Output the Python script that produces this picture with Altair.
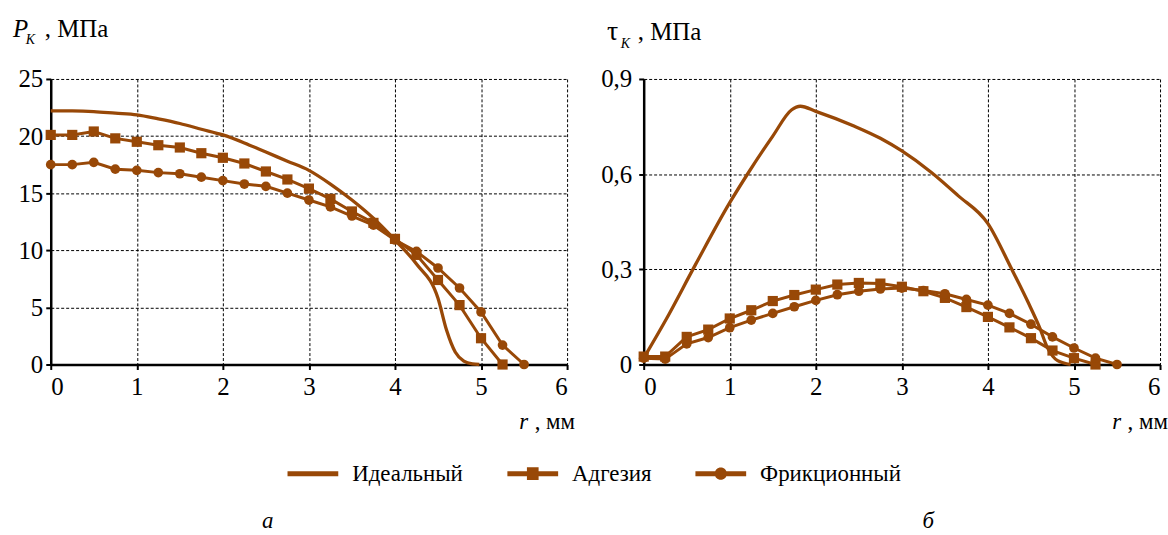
import altair as alt
import pandas as pd

BROWN = "#984807"
FONT = "Liberation Serif"

series_names = ["Идеальный", "Адгезия", "Фрикционный"]

# ---- panel а : contact pressure P_K, MPa ----
r_ideal_p = [0, 0.25, 0.5, 0.75, 1, 1.25, 1.5, 1.75, 2, 2.25, 2.5, 2.75, 3, 3.25,
             3.5, 3.75, 4, 4.25, 4.5, 4.6, 4.7, 4.8, 4.9, 4.98]
p_ideal = [22.2, 22.2, 22.15, 22.0, 21.85, 21.5, 21.1, 20.6, 20.1, 19.4, 18.6, 17.8,
           17.0, 15.8, 14.4, 12.8, 10.9, 8.8, 5.8, 3.0, 1.1, 0.3, 0.05, 0]

r_adh_p = [0, 0.25, 0.5, 0.75, 1, 1.25, 1.5, 1.75, 2, 2.25, 2.5, 2.75, 3, 3.25,
           3.5, 3.75, 4, 4.25, 4.5, 4.75, 5, 5.25]
p_adh = [20.1, 20.1, 20.4, 19.8, 19.5, 19.2, 19.0, 18.5, 18.1, 17.6, 16.9, 16.2,
         15.4, 14.5, 13.4, 12.4, 11.0, 9.6, 7.4, 5.2, 2.3, 0]

r_fric_p = [0, 0.25, 0.5, 0.75, 1, 1.25, 1.5, 1.75, 2, 2.25, 2.5, 2.75, 3, 3.25,
            3.5, 3.75, 4, 4.25, 4.5, 4.75, 5, 5.25, 5.5]
p_fric = [17.5, 17.5, 17.7, 17.1, 17.0, 16.8, 16.7, 16.4, 16.1, 15.8, 15.6, 15.0,
          14.4, 13.8, 13.0, 12.2, 10.9, 9.9, 8.45, 6.7, 4.6, 1.7, 0]

# ---- panel б : shear stress tau_K, MPa ----
r_ideal_t = [0, 0.25, 0.6, 1.0, 1.22, 1.5, 1.72, 1.82, 2.0, 2.45, 2.75, 3.0, 3.34,
             3.65, 4.0, 4.27, 4.46, 4.6, 4.69, 4.81, 4.96]
t_ideal = [0.02, 0.137, 0.314, 0.51, 0.606, 0.72, 0.803, 0.814, 0.798, 0.751, 0.713,
           0.673, 0.606, 0.533, 0.444, 0.304, 0.2, 0.117, 0.054, 0.012, 0.0]

r_adh_t = [0, 0.25, 0.5, 0.75, 1, 1.25, 1.5, 1.75, 2, 2.25, 2.5, 2.75, 3, 3.25,
           3.5, 3.75, 4, 4.25, 4.5, 4.75, 5, 5.25]
t_adh = [0.025, 0.025, 0.087, 0.11, 0.145, 0.171, 0.2, 0.219, 0.236, 0.252, 0.257,
         0.255, 0.245, 0.231, 0.21, 0.181, 0.15, 0.117, 0.083, 0.044, 0.02, 0.0]

r_fric_t = [0, 0.25, 0.5, 0.75, 1, 1.25, 1.5, 1.75, 2, 2.25, 2.5, 2.75, 3, 3.25,
            3.5, 3.75, 4, 4.25, 4.5, 4.75, 5, 5.25, 5.5]
t_fric = [0.02, 0.017, 0.065, 0.085, 0.116, 0.14, 0.161, 0.182, 0.202, 0.22, 0.231,
          0.238, 0.241, 0.233, 0.223, 0.205, 0.187, 0.161, 0.127, 0.087, 0.052, 0.02, 0.0]

x_ticks = [0, 1, 2, 3, 4, 5, 6]
p_ticks = [0, 5, 10, 15, 20, 25]
t_ticks = [0, 0.3, 0.6, 0.9]

W, H = 519, 287

# legend symbols: line, line + square, line + circle (unit box -1..1)
PATH_IDEAL = "M-1,-0.1H1V0.1H-1Z"
PATH_ADH = "M-1,-0.1H-0.23V-0.25H0.23V-0.1H1V0.1H0.23V0.25H-0.23V0.1H-1Z"
PATH_FRIC = ("M-1,-0.1H1V0.1H-1Z M0.24,0A0.24,0.24 0 1,1 -0.24,0"
             "A0.24,0.24 0 1,1 0.24,0Z")


def frame(r, v, name):
    return pd.DataFrame({"r": r, "v": v, "series": name})


def txt(s, x, y, size=22, style="normal", align="left"):
    return alt.Chart(pd.DataFrame({"s": [s]})).mark_text(
        font=FONT, fontSize=size, fontStyle=style, align=align,
        baseline="alphabetic", color="black"
    ).encode(text="s:N", x=alt.value(x), y=alt.value(y))


def panel(ideal_df, adh_df, fric_df, ymax, yticks, label_expr, letter,
          letter_x, label_pad, is_left):
    xs = alt.X("r:Q", scale=alt.Scale(domain=[0, 6], nice=False),
               axis=alt.Axis(values=x_ticks, title=None, format="d",
                             labelPadding=5))
    ys = alt.Y("v:Q", scale=alt.Scale(domain=[0, ymax], nice=False),
               axis=alt.Axis(values=yticks, title=None, labelExpr=label_expr,
                             labelPadding=label_pad))
    ideal = alt.Chart(ideal_df).mark_line(
        color=BROWN, strokeWidth=3.3, interpolate="monotone").encode(x=xs, y=ys)
    adh_line = alt.Chart(adh_df).mark_line(
        color=BROWN, strokeWidth=3).encode(x=xs, y=ys)
    adh_pts = alt.Chart(adh_df).mark_point(
        shape="square", filled=True, color=BROWN, size=105, opacity=1
    ).encode(x=xs, y=ys)
    fric_line = alt.Chart(fric_df).mark_line(
        color=BROWN, strokeWidth=3).encode(x=xs, y=ys)
    fric_pts = alt.Chart(fric_df).mark_point(
        shape="circle", filled=True, color=BROWN, size=95, opacity=1
    ).encode(x=xs, y=ys)
    layers = [ideal, adh_line, fric_line, adh_pts, fric_pts]
    if is_left:
        all_df = pd.concat([ideal_df, adh_df, fric_df])
        proxy = alt.Chart(all_df).mark_point(
            filled=True, color=BROWN, opacity=0
        ).encode(
            x=xs, y=ys,
            shape=alt.Shape(
                "series:N",
                scale=alt.Scale(domain=series_names,
                                range=[PATH_IDEAL, PATH_ADH, PATH_FRIC]),
                legend=alt.Legend(
                    title=None, orient="none", legendX=238, legendY=371,
                    direction="horizontal", symbolSize=2601,
                    symbolFillColor=BROWN, symbolStrokeColor=BROWN,
                    symbolStrokeWidth=0, symbolOpacity=1,
                    labelFont=FONT, labelFontSize=23, labelColor="black",
                    labelOffset=14, columnPadding=44, labelLimit=400,
                ),
            ),
        )
        layers.append(proxy)
        layers += [
            txt("P", -38, -42, size=25, style="italic"),
            txt("K", -25, -35, size=14, style="italic"),
            txt(", МПа", -6, -42, size=25),
        ]
    else:
        layers += [
            txt("τ", -37, -39, size=28),
            txt("K", -23, -31, size=14, style="italic"),
            txt(", МПа", -6, -39, size=25),
        ]
    layers += [
        txt("r", W - 48, H + 65, size=23, style="italic"),
        txt(", мм", W + 8, H + 65, size=23, align="right"),
        txt(letter, letter_x, H + 164, size=23, style="italic", align="center"),
    ]
    return alt.layer(*layers).properties(width=W, height=H)


left = panel(frame(r_ideal_p, p_ideal, series_names[0]),
             frame(r_adh_p, p_adh, series_names[1]),
             frame(r_fric_p, p_fric, series_names[2]),
             25, p_ticks, "datum.label", "а", 218, 3, True)

right = panel(frame(r_ideal_t, t_ideal, series_names[0]),
              frame(r_adh_t, t_adh, series_names[1]),
              frame(r_fric_t, t_fric, series_names[2]),
              0.9, t_ticks,
              "datum.value == 0 ? '0' : replace(format(datum.value, '.1f'), '.', ',')",
              "б", 286, 7, False)

chart = alt.hconcat(left, right, spacing=25).properties(
    padding={"left": 13, "top": 16, "right": 0, "bottom": 0}
).configure(font=FONT).configure_view(strokeWidth=0).configure_axis(
    labelFont=FONT, labelFontSize=25, labelColor="black",
    domainColor="black", domainWidth=2.5,
    tickColor="black", tickWidth=2, tickSize=5,
    gridColor="black", gridDash=[3, 2], gridWidth=1, gridOpacity=1,
)

chart.save("out.html", embed_options={"renderer": "svg", "actions": False})
